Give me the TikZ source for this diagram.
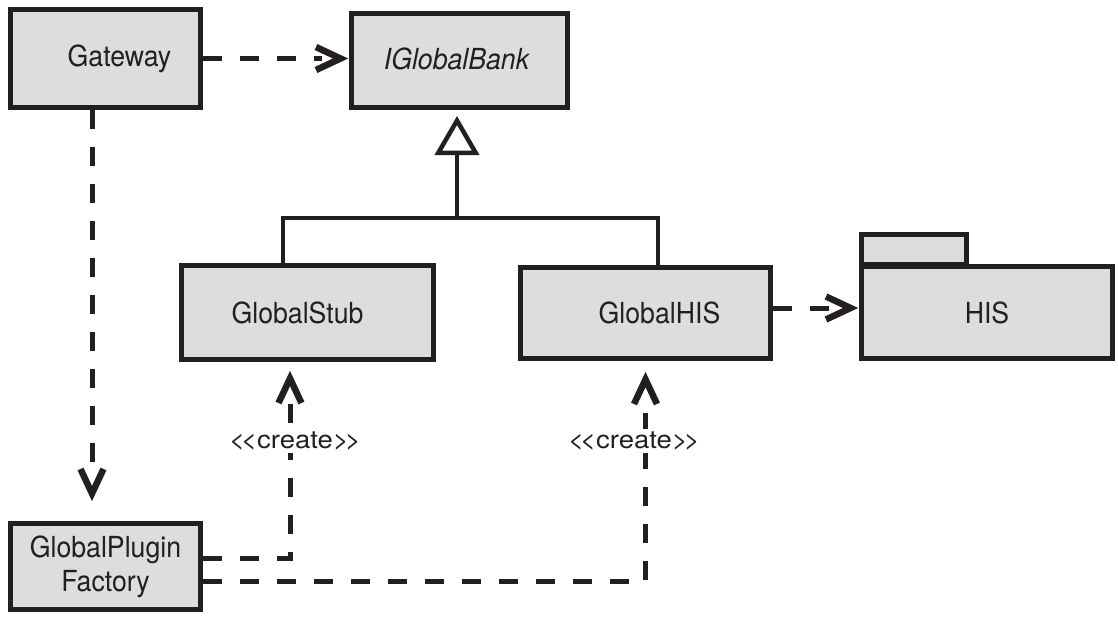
\documentclass[tikz,border=0pt]{standalone}
\usepackage{fontspec}
\setmainfont{TeX Gyre Heros}
\newfontfamily\namefont[FakeStretch=0.92]{TeX Gyre Heros}
\newfontfamily\lblfont[FakeStretch=1.1]{TeX Gyre Heros}
\usetikzlibrary{arrows.meta}
\definecolor{boxfill}{HTML}{DCDDDF}
\definecolor{ink}{HTML}{231F20}
\pgfdeclarearrow{
  name=OpenV,
  setup code={
    \pgfarrowssettipend{0pt}
    \pgfarrowssetbackend{-32pt}
    \pgfarrowssetlineend{-23pt}
    \pgfarrowsupperhullpoint{-32pt}{14pt}
    \pgfarrowshullpoint{0pt}{0pt}
  },
  drawing code={
    \pgfsetdash{}{0pt}
    \pgfsetlinewidth{6.5pt}
    \pgfsetmiterjoin
    \pgfsetbuttcap
    \pgfpathmoveto{\pgfqpoint{-29pt}{11.5pt}}
    \pgfpathlineto{\pgfqpoint{-4.5pt}{0pt}}
    \pgfpathlineto{\pgfqpoint{-29pt}{-11.5pt}}
    \pgfusepathqstroke
  }
}
\begin{document}
\begin{tikzpicture}[x=1pt,y=-1pt,
  cls/.style={draw=ink, fill=boxfill, line width=5pt, inner sep=0pt, text=ink,
              font=\namefont\fontsize{29}{34}\selectfont, align=center},
  dep/.style={draw=ink, line width=5pt, dash pattern=on 19pt off 18pt, shorten >=4pt, -OpenV},
  gen/.style={draw=ink, line width=4.5pt},
  lbl/.style={font=\lblfont\fontsize{25}{28}\selectfont, fill=white, inner sep=3pt, text=ink}
]
\useasboundingbox (0,0) rectangle (1118,616);

\node[cls, minimum width=190pt, minimum height=98pt] (gw) at (105.5,58.5) {\kern28pt Gateway};
\node[cls, minimum width=216pt, minimum height=94pt] (igb) at (459.5,60.5) {\raisebox{4pt}{\itshape IGlobalBank}\kern6pt};
\node[cls, minimum width=252pt, minimum height=94pt] (stub) at (307.5,312.5) {GlobalStub\kern20pt};
\node[cls, minimum width=250pt, minimum height=91pt] (ghis) at (645.5,313) {\kern28pt GlobalHIS};
\node[cls, minimum width=105pt, minimum height=30pt] (tab) at (914,249.5) {};
\node[cls, minimum width=251pt, minimum height=92pt] (his) at (987,312.5) {HIS};
\node[cls, minimum width=190pt, minimum height=86pt] (fac) at (105.5,566.5) {GlobalPlugin\\Factory};

% generalization
\coordinate (j) at (457,218);
\draw[gen] ([xshift=-24.5pt]stub.north) |- (j) -| ([xshift=12.5pt]ghis.north);
\draw[gen, shorten >=6pt, -{Triangle[open, fill=white, length=39pt, width=44pt, line width=4.5pt]}] (j) -- (j |- igb.south);

% dependencies
\draw[dep] (gw.east) -- (gw.east -| igb.west);
\draw[dep] ([yshift=5pt]ghis.east) -- ([yshift=5pt]ghis.east -| his.west);
\draw[dep, shorten >=23pt] ([xshift=-13.5pt]gw.south) -- ([xshift=-13.5pt]gw.south |- fac.north);

% create
\draw[dep, shorten >=12pt] ([yshift=8.5pt]fac.east) -| ([xshift=-17.5pt]stub.south);
\draw[dep, shorten >=14pt] ([yshift=-14.5pt]fac.east) -| (ghis.south);
\node[lbl] (c1) at (295,441) {<\kern-4pt<create>\kern-4pt>};
\node[lbl] (c2) at (634,441) {<\kern-4pt<create>\kern-4pt>};
\end{tikzpicture}
\end{document}
